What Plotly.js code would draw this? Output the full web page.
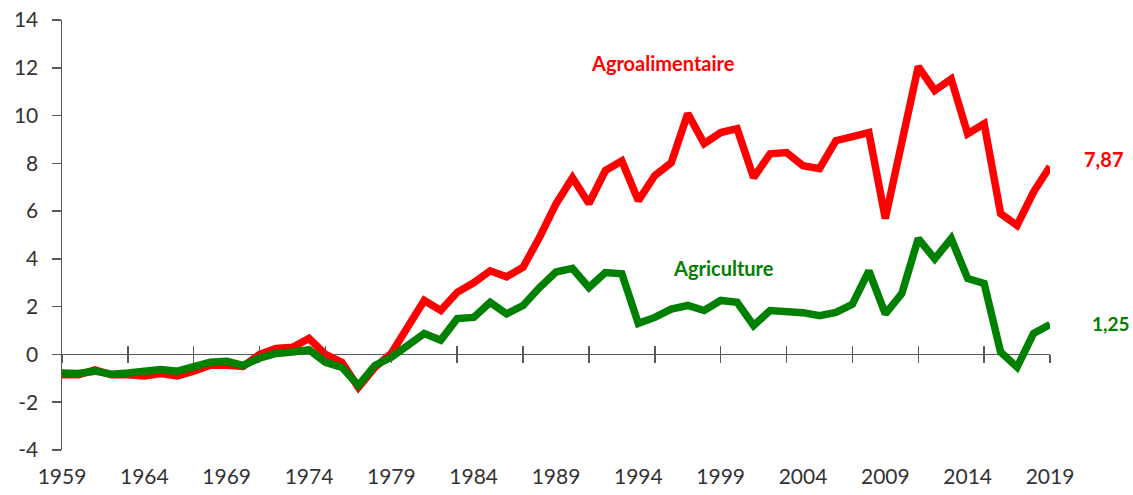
<!DOCTYPE html>
<html>
<head>
<meta charset="utf-8">
<script src="https://cdn.plot.ly/plotly-3.0.1.min.js"></script>
<style>
html,body{margin:0;padding:0;background:#fff;}
#chart{width:1133px;height:495px;}
</style>
</head>
<body>
<div id="chart"></div>
<script>
// ---- data ----
const years = [];
for (let y = 1959; y <= 2019; y++) years.push(y);

const agroalimentaire = [
  -0.85, -0.85, -0.65, -0.85, -0.85, -0.9, -0.8, -0.9, -0.7, -0.45,
  -0.45, -0.5, 0.0, 0.25, 0.3, 0.67, 0.0, -0.33, -1.38, -0.54,
  0.05, 1.2, 2.26, 1.84, 2.6, 3.0, 3.5, 3.25, 3.65, 4.9,
  6.3, 7.4, 6.32, 7.7, 8.1, 6.44, 7.49, 8.03, 10.08, 8.83,
  9.29, 9.45, 7.4, 8.4, 8.45, 7.9, 7.78, 8.95, 9.16, 9.29,
  5.69, 8.8, 12.05, 11.05, 11.53, 9.24, 9.66, 5.9, 5.4, 6.8,
  7.87
];

const agriculture = [
  -0.78, -0.8, -0.7, -0.83, -0.78, -0.72, -0.63, -0.7, -0.54, -0.33,
  -0.29, -0.46, -0.15, 0.04, 0.1, 0.2, -0.33, -0.54, -1.3, -0.46,
  -0.12, 0.4, 0.88, 0.6, 1.5, 1.55, 2.18, 1.7, 2.05, 2.8,
  3.45, 3.6, 2.8, 3.43, 3.38, 1.3, 1.55, 1.9, 2.05, 1.84,
  2.26, 2.18, 1.21, 1.84, 1.8, 1.75, 1.62, 1.76, 2.1, 3.5,
  1.7, 2.55, 4.85, 4.0, 4.85, 3.18, 2.97, 0.1, -0.53, 0.88,
  1.25
];

const xTickLabels = ["1959","1964","1969","1974","1979","1984","1989","1994","1999","2004","2009","2014","2019"];
const xTickVals = xTickLabels.map(Number);
const yTickLabels = ["-4","-2","0","2","4","6","8","10","12","14"];
const yTickVals = yTickLabels.map(Number);
const seriesNames = ["Agroalimentaire", "Agriculture"];

// ---- styles ----
const RED = "#FF0000";
const GREEN = "#008000";
const AXIS = "#595959";
const TXT = "#333333";
const FONT = "Lato, 'Open Sans', sans-serif";

const fmt = v => v.toFixed(2).replace(".", ",");
const lastYear = years[years.length - 1];
const lastAgro = agroalimentaire[agroalimentaire.length - 1];
const lastAgri = agriculture[agriculture.length - 1];

const traces = [
  {x: years, y: agroalimentaire, type: "scatter", mode: "lines", name: seriesNames[0],
   line: {color: RED, width: 7.5, shape: "linear"}, hoverinfo: "x+y"},
  {x: years, y: agriculture, type: "scatter", mode: "lines", name: seriesNames[1],
   line: {color: GREEN, width: 7.5, shape: "linear"}, hoverinfo: "x+y"},
  // invisible carriers for the tick-mark axes crossing at y = 0
  {x: years, y: agriculture, type: "scatter", mode: "lines", xaxis: "x2", yaxis: "y",
   line: {width: 0}, opacity: 0, showlegend: false, hoverinfo: "skip"},
  {x: years, y: agriculture, type: "scatter", mode: "lines", xaxis: "x3", yaxis: "y",
   line: {width: 0}, opacity: 0, showlegend: false, hoverinfo: "skip"}
];

const yMin = -4, yMax = 14;
const zeroPos = (0 - yMin) / (yMax - yMin);

const tickAxis = (ticks) => ({
  range: [1959, 2019], overlaying: "x", anchor: "free", position: zeroPos,
  tick0: 1959, dtick: 4, ticks: ticks, ticklen: 8, tickwidth: 1.5, tickcolor: AXIS,
  showticklabels: false, showline: false, showgrid: false, zeroline: false, fixedrange: true
});

const layout = {
  width: 1133, height: 495,
  margin: {l: 62, r: 83, t: 20, b: 45, pad: 0},
  paper_bgcolor: "#ffffff", plot_bgcolor: "#ffffff",
  showlegend: false,
  font: {family: FONT, color: TXT},
  xaxis: {
    range: [1959, 2019], tickmode: "array", tickvals: xTickVals, ticktext: xTickLabels,
    ticks: "", showline: false, showgrid: false, zeroline: false,
    tickfont: {family: FONT, size: 21, color: TXT}, ticklabelstandoff: 12
  },
  xaxis2: tickAxis("outside"),
  xaxis3: tickAxis("inside"),
  yaxis: {
    range: [yMin, yMax], tickmode: "array", tickvals: yTickVals, ticktext: yTickLabels,
    ticks: "outside", ticklen: 9, tickwidth: 1.5,
    tickcolor: AXIS, showline: true, linecolor: AXIS, linewidth: 1.5, showgrid: false,
    zeroline: true, zerolinecolor: AXIS, zerolinewidth: 1.5,
    tickfont: {family: FONT, size: 21, color: TXT}, ticklabelstandoff: 9
  },
  annotations: [
    {text: "<b>" + seriesNames[0] + "</b>", x: 1995.5, y: 12.2, xref: "x", yref: "y",
     showarrow: false, font: {family: FONT, size: 20, color: RED}},
    {text: "<b>" + seriesNames[1] + "</b>", x: 1999.2, y: 3.6, xref: "x", yref: "y",
     showarrow: false, font: {family: FONT, size: 20, color: GREEN}},
    {text: "<b>" + fmt(lastAgro) + "</b>", x: lastYear, y: lastAgro + 0.3, xref: "x", yref: "y",
     xanchor: "left", xshift: 32, showarrow: false, font: {family: FONT, size: 20, color: RED}},
    {text: "<b>" + fmt(lastAgri) + "</b>", x: lastYear, y: lastAgri + 0.05, xref: "x", yref: "y",
     xanchor: "left", xshift: 40, showarrow: false, font: {family: FONT, size: 19, color: GREEN}}
  ]
};

Plotly.newPlot("chart", traces, layout, {displayModeBar: false, staticPlot: true});
</script>
</body>
</html>
